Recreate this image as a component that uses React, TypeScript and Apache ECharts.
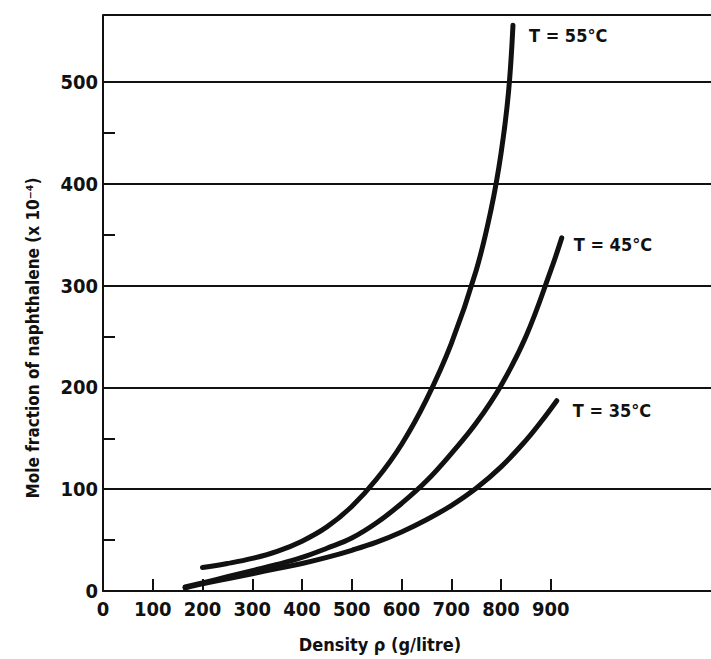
import React, { useEffect, useRef } from "react";
import * as echarts from "echarts";

const density55 = [200, 250, 300, 350, 400, 450, 500, 550, 600, 650, 700, 750, 780, 800, 815, 824];
const mole55 = [23, 27, 32, 39, 49, 63, 83, 110, 144, 188, 243, 315, 375, 430, 490, 556];
const density45 = [165, 200, 250, 300, 350, 400, 450, 500, 550, 600, 650, 700, 750, 800, 850, 900, 922];
const mole45 = [4, 8, 14, 20, 26, 33, 42, 52, 67, 86, 108, 135, 165, 202, 250, 315, 347];
const density35 = [165, 200, 250, 300, 350, 400, 450, 500, 550, 600, 650, 700, 750, 800, 850, 880, 912];
const mole35 = [3, 7, 12, 17, 22, 27, 33, 40, 48, 58, 70, 84, 101, 122, 148, 166, 187];

const seriesNames = ["T = 55\u00b0C", "T = 45\u00b0C", "T = 35\u00b0C"];
const xTickLabels = [0, 100, 200, 300, 400, 500, 600, 700, 800, 900];
const xTicks = [100, 200, 300, 400, 500, 600, 700, 800, 900];
const yMinorTicks = [50, 150, 250, 350, 450];

const FONT = "'DejaVu Sans Condensed', 'DejaVu Sans', sans-serif";
const INK = "#111";

function pairs(xs: number[], ys: number[]) {
  return xs.map((x, i) => [x, ys[i]]);
}

export default function App() {
  const ref = useRef<HTMLDivElement>(null);
  useEffect(() => {
    if (!ref.current) return;
    const chart = echarts.init(ref.current, undefined, { renderer: "svg" });
    const mk = (name: string, data: number[][], offset: number[]) => ({
      type: "line",
      name,
      data,
      xAxisIndex: 0,
      yAxisIndex: 0,
      smooth: 0.4,
      showSymbol: false,
      symbol: "none",
      lineStyle: { color: INK, width: 5, cap: "round", join: "round" },
      endLabel: {
        show: true,
        formatter: name,
        color: INK,
        fontFamily: FONT,
        fontWeight: "bold",
        fontSize: 18,
        offset,
      },
      emphasis: { disabled: true },
    });
    chart.setOption({
      animation: false,
      backgroundColor: "#fff",
      grid: { left: 103, right: 0, top: 15, bottom: 68, containLabel: false },
      xAxis: {
        type: "value",
        min: 0,
        max: 1222,
        name: "Density \u03c1 (g/litre)",
        nameLocation: "middle",
        nameGap: 44,
        nameTextStyle: {
          color: INK,
          fontFamily: FONT,
          fontWeight: "bold",
          fontSize: 18,
          padding: [0, 54, 0, 0],
        },
        axisLine: { show: true, lineStyle: { color: INK, width: 2 } },
        axisTick: {
          show: true,
          inside: true,
          length: 12,
          customValues: xTicks,
          lineStyle: { color: INK, width: 2 },
        },
        axisLabel: {
          customValues: xTickLabels,
          color: INK,
          fontFamily: FONT,
          fontWeight: "bold",
          fontSize: 20,
          margin: 8,
        },
        splitLine: { show: false },
      },
      yAxis: [
        {
          type: "value",
          min: 0,
          max: 566,
          interval: 100,
          name: "Mole fraction of naphthalene (x 10\u207b\u2074)",
          nameLocation: "middle",
          nameGap: 62,
          nameTextStyle: {
            color: INK,
            fontFamily: FONT,
            fontWeight: "bold",
            fontSize: 17,
            padding: [0, 70, 0, 0],
          },
          axisLine: { show: true, lineStyle: { color: INK, width: 2 } },
          axisTick: { show: false },
          axisLabel: {
            showMaxLabel: false,
            color: INK,
            fontFamily: FONT,
            fontWeight: "bold",
            fontSize: 20,
            margin: 5,
          },
          splitLine: { show: true, lineStyle: { color: INK, width: 2 } },
        },
        {
          type: "value",
          min: 0,
          max: 566,
          position: "left",
          axisLine: { show: false },
          axisLabel: { show: false, customValues: yMinorTicks },
          axisTick: {
            show: true,
            inside: true,
            length: 12,
            customValues: yMinorTicks,
            lineStyle: { color: INK, width: 2 },
          },
          splitLine: { show: false },
        },
      ],
      series: [
        mk(seriesNames[0], pairs(density55, mole55), [8, 10]),
        mk(seriesNames[1], pairs(density45, mole45), [4, 7]),
        mk(seriesNames[2], pairs(density35, mole35), [8, 10]),
      ],
    });
    return () => chart.dispose();
  }, []);
  return (
    <div
      ref={ref}
      style={{ position: "absolute", left: 0, top: 0, width: 711, height: 659 }}
    />
  );
}
